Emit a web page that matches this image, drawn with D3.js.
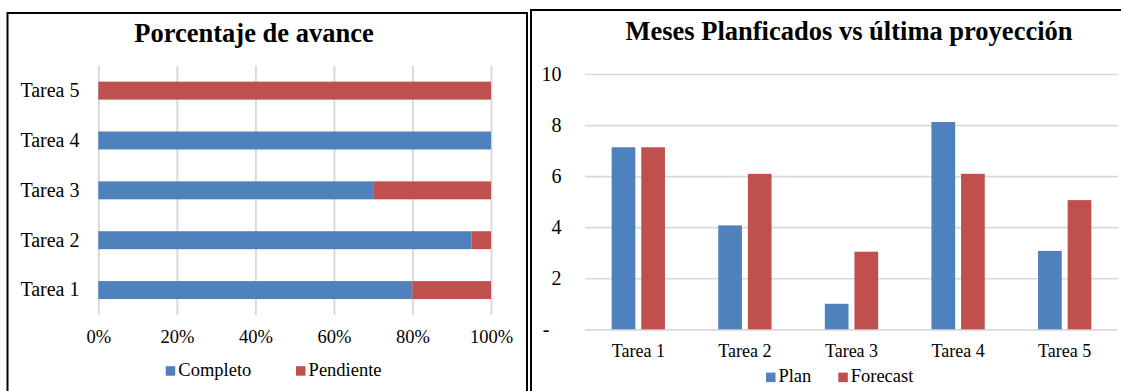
<!DOCTYPE html>
<html>
<head>
<meta charset="utf-8">
<script src="https://cdn.jsdelivr.net/npm/d3@7"></script>
<style>
  html, body { margin: 0; padding: 0; background: #fff; }
  svg { display: block; font-family: "Liberation Serif", "Times New Roman", serif; }
  .domain { display: none; }
</style>
</head>
<body>
<svg id="chart" width="1121" height="391"></svg>
<script>
// Avance por tarea (fracción completada / pendiente)
const tareas = ["Tarea 1", "Tarea 2", "Tarea 3", "Tarea 4", "Tarea 5"];
const completo = [0.80, 0.95, 0.70, 1.00, 0.00];
const pendiente = [0.20, 0.05, 0.30, 0.00, 1.00];
const pctTicks = [0, 0.2, 0.4, 0.6, 0.8, 1.0];

// Meses planificados vs última proyección
const plan = [7.13, 4.07, 1.00, 8.12, 3.07];
const forecast = [7.13, 6.09, 3.04, 6.09, 5.06];
const mesesTicks = [0, 2, 4, 6, 8, 10];

const BLUE = "#4F81BD", RED = "#C0504D", GRID = "#D9D9D9";
const svg = d3.select("#chart");

// ---------- Panel izquierdo: barras apiladas horizontales ----------
const left = svg.append("g");
left.append("rect")
  .attr("x", 7.5).attr("y", 13).attr("width", 519.5).attr("height", 400)
  .attr("fill", "#fff").attr("stroke", "#000").attr("stroke-width", 2);

left.append("text")
  .attr("x", 254).attr("y", 42.3).attr("text-anchor", "middle")
  .style("font-size", "26.5px").style("font-weight", "bold")
  .text("Porcentaje de avance");

const pTop = 65.7, pBot = 315;
const xP = d3.scaleLinear().domain([0, 1]).range([98.3, 491]);
const yP = d3.scaleBand().domain(tareas.slice().reverse())
  .range([pTop, pBot]).paddingInner(0.64).paddingOuter(0.32);

const xAxisL = left.append("g")
  .attr("transform", `translate(0,${pBot})`)
  .call(d3.axisBottom(xP).tickValues(pctTicks).tickFormat(d3.format(".0%"))
    .tickSize(-(pBot - pTop)).tickPadding(14.9));
xAxisL.selectAll("line").attr("stroke", GRID).attr("stroke-width", 2);
xAxisL.selectAll("text").attr("fill", "#000").style("font-size", "18.5px")
  .style("font-family", "Liberation Serif");

const yAxisL = left.append("g")
  .attr("transform", `translate(${xP(0)},0)`)
  .call(d3.axisLeft(yP).tickSize(0).tickPadding(18.8));
yAxisL.selectAll("text").attr("fill", "#000").style("font-size", "20px")
  .style("font-family", "Liberation Serif");

const rowsP = tareas.map((t, i) => ({ tarea: t, Completo: completo[i], Pendiente: pendiente[i] }));
const stackP = d3.stack().keys(["Completo", "Pendiente"])(rowsP);
const colorP = { Completo: BLUE, Pendiente: RED };

left.append("g").selectAll("g").data(stackP).join("g")
  .attr("fill", d => colorP[d.key])
  .selectAll("rect").data(d => d).join("rect")
  .attr("x", d => xP(d[0]))
  .attr("y", d => yP(d.data.tarea))
  .attr("width", d => Math.max(0, xP(d[1]) - xP(d[0])))
  .attr("height", yP.bandwidth());

const legL = left.append("g");
["Completo", "Pendiente"].forEach((k, i) => {
  const x0 = 165.7 + i * 130.3;
  legL.append("rect").attr("x", x0).attr("y", 366.2).attr("width", 9.5).attr("height", 9.5)
    .attr("fill", colorP[k]);
  legL.append("text").attr("x", x0 + 12.6).attr("y", 375.7)
    .style("font-size", "18.5px").text(k);
});

// ---------- Panel derecho: barras agrupadas ----------
const right = svg.append("g");
right.append("rect")
  .attr("x", 531).attr("y", 10).attr("width", 600).attr("height", 400)
  .attr("fill", "#fff").attr("stroke", "#000").attr("stroke-width", 2);

right.append("text")
  .attr("x", 849).attr("y", 39.5).attr("text-anchor", "middle")
  .style("font-size", "26.5px").style("font-weight", "bold")
  .text("Meses Planficados vs última proyección");

const mL = 585, mR = 1118;
const yM = d3.scaleLinear().domain([0, 10]).range([329.3, 74]);
const x0M = d3.scaleBand().domain(tareas).range([mL, mR]).paddingInner(0.5).paddingOuter(0.25);
const series = ["Plan", "Forecast"];
const x1M = d3.scaleBand().domain(series).range([0, x0M.bandwidth()]).paddingInner(0.2);
const colorM = { Plan: BLUE, Forecast: RED };

const yAxisR = right.append("g")
  .attr("transform", `translate(${mL},0)`)
  .call(d3.axisLeft(yM).tickValues(mesesTicks).tickFormat(d => d === 0 ? "-" : d)
    .tickSize(-(mR - mL)).tickPadding(23.5));
yAxisR.selectAll("line").attr("stroke", GRID).attr("stroke-width", 1.7);
yAxisR.selectAll("text").attr("fill", "#000").style("font-size", "20px")
  .style("font-family", "Liberation Serif")
  .filter(d => d === 0).attr("x", -35.5);

const xAxisR = right.append("g")
  .attr("transform", `translate(0,${yM(0)})`)
  .call(d3.axisBottom(x0M).tickSize(0).tickPadding(15.2));
xAxisR.selectAll("text").attr("fill", "#000").style("font-size", "18px")
  .style("font-family", "Liberation Serif");

const rowsM = tareas.map((t, i) => ({ tarea: t, Plan: plan[i], Forecast: forecast[i] }));
right.append("g").selectAll("g").data(rowsM).join("g")
  .attr("transform", d => `translate(${x0M(d.tarea)},0)`)
  .selectAll("rect").data(d => series.map(s => ({ key: s, value: d[s] }))).join("rect")
  .attr("x", d => x1M(d.key))
  .attr("y", d => yM(d.value))
  .attr("width", x1M.bandwidth())
  .attr("height", d => yM(0) - yM(d.value))
  .attr("fill", d => colorM[d.key]);

const legR = right.append("g");
series.forEach((k, i) => {
  const x0 = 766 + i * 72.3;
  legR.append("rect").attr("x", x0).attr("y", 372.6).attr("width", 9.5).attr("height", 9.5)
    .attr("fill", colorM[k]);
  legR.append("text").attr("x", x0 + 12.4).attr("y", 382)
    .style("font-size", "18.5px").text(k);
});
</script>
</body>
</html>
